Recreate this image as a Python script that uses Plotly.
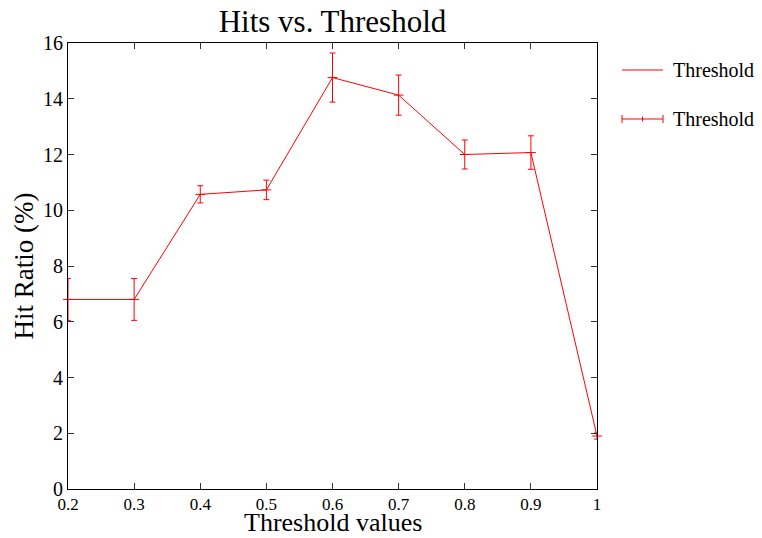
import plotly.graph_objects as go

# Hit ratio measured at each threshold setting
thresholds = [0.2, 0.3, 0.4, 0.5, 0.6, 0.7, 0.8, 0.9, 1.0]
hit_ratio = [6.8, 6.8, 10.57, 10.73, 14.76, 14.13, 12.0, 12.07, 1.9]
hit_error = [0.75, 0.75, 0.31, 0.35, 0.88, 0.72, 0.52, 0.6, 0.11]

x_ticks = [0.2, 0.3, 0.4, 0.5, 0.6, 0.7, 0.8, 0.9, 1.0]
x_tick_text = ["0.2", "0.3", "0.4", "0.5", "0.6", "0.7", "0.8", "0.9", "1"]
y_ticks = [0, 2, 4, 6, 8, 10, 12, 14, 16]

legend_labels = ["Threshold", "Threshold"]

RED = "#ff0000"
FONT = "Liberation Serif, Times New Roman, serif"

fig = go.Figure()

# plain line through the points
fig.add_trace(go.Scatter(
    x=thresholds, y=hit_ratio, mode="lines",
    line=dict(color=RED, width=1), showlegend=False, hoverinfo="skip",
))

# same points with error bars
fig.add_trace(go.Scatter(
    x=thresholds, y=hit_ratio, mode="markers",
    marker=dict(symbol="line-ew-open", size=7, color=RED,
                line=dict(color=RED, width=1)),
    error_y=dict(type="data", array=hit_error, color=RED,
                 thickness=1, width=3),
    showlegend=False, cliponaxis=False,
))

# plot-area box in px, used to place the legend keys and x title
L, T, W, H = 68, 43, 529, 446


def px_x(p):
    return (p - L) / W


def px_y(p):
    return (T + H - p) / H


shapes = []
annotations = []

# legend key 1: plain line
y1 = px_y(70)
shapes.append(dict(type="line", xref="paper", yref="paper",
                   x0=px_x(622), x1=px_x(663), y0=y1, y1=y1,
                   line=dict(color=RED, width=1)))
annotations.append(dict(xref="paper", yref="paper", x=px_x(671), y=y1,
                        text=legend_labels[0], showarrow=False,
                        xanchor="left", yanchor="middle",
                        font=dict(family=FONT, size=20, color="black")))

# legend key 2: line with end caps and centre tick
y2 = px_y(119)
cap = 4 / H
shapes.append(dict(type="line", xref="paper", yref="paper",
                   x0=px_x(622), x1=px_x(663), y0=y2, y1=y2,
                   line=dict(color=RED, width=1)))
for px in (622, 663):
    shapes.append(dict(type="line", xref="paper", yref="paper",
                       x0=px_x(px), x1=px_x(px), y0=y2 - cap, y1=y2 + cap,
                       line=dict(color=RED, width=1)))
shapes.append(dict(type="line", xref="paper", yref="paper",
                   x0=px_x(642.5), x1=px_x(642.5), y0=y2 - cap * 0.6,
                   y1=y2 + cap * 0.6, line=dict(color=RED, width=1)))
annotations.append(dict(xref="paper", yref="paper", x=px_x(671), y=y2,
                        text=legend_labels[1], showarrow=False,
                        xanchor="left", yanchor="middle",
                        font=dict(family=FONT, size=20, color="black")))

# x-axis title, sitting just under the tick labels
annotations.append(dict(xref="paper", yref="paper", x=0.5, y=px_y(538),
                        text="Threshold values", showarrow=False,
                        xanchor="center", yanchor="bottom",
                        borderpad=0,
                        font=dict(family=FONT, size=26, color="black")))

axis_common = dict(
    showline=True, linecolor="black", linewidth=1, mirror="ticks",
    ticks="inside", ticklen=6, tickcolor="#333333", tickwidth=1,
    showgrid=False, zeroline=False, automargin=False,
)

fig.update_layout(
    width=762, height=538,
    margin=dict(l=L, r=762 - L - W, t=T, b=538 - T - H),
    paper_bgcolor="white", plot_bgcolor="white",
    title=dict(text="Hits vs. Threshold", x=(L + W / 2) / 762,
               xanchor="center", y=1 - 21 / 538, yanchor="middle",
               font=dict(family=FONT, size=31, color="black")),
    xaxis=dict(range=[0.2, 1.0], tickvals=x_ticks, ticktext=x_tick_text,
               tickfont=dict(family=FONT, size=17, color="black"),
               **axis_common),
    yaxis=dict(range=[0, 16], tickvals=y_ticks,
               tickfont=dict(family=FONT, size=20, color="black"),
               title=dict(text="Hit Ratio (%)", standoff=1,
                          font=dict(family=FONT, size=27, color="black")),
               **axis_common),
    shapes=shapes, annotations=annotations, showlegend=False,
)

fig.write_html("out.html")
